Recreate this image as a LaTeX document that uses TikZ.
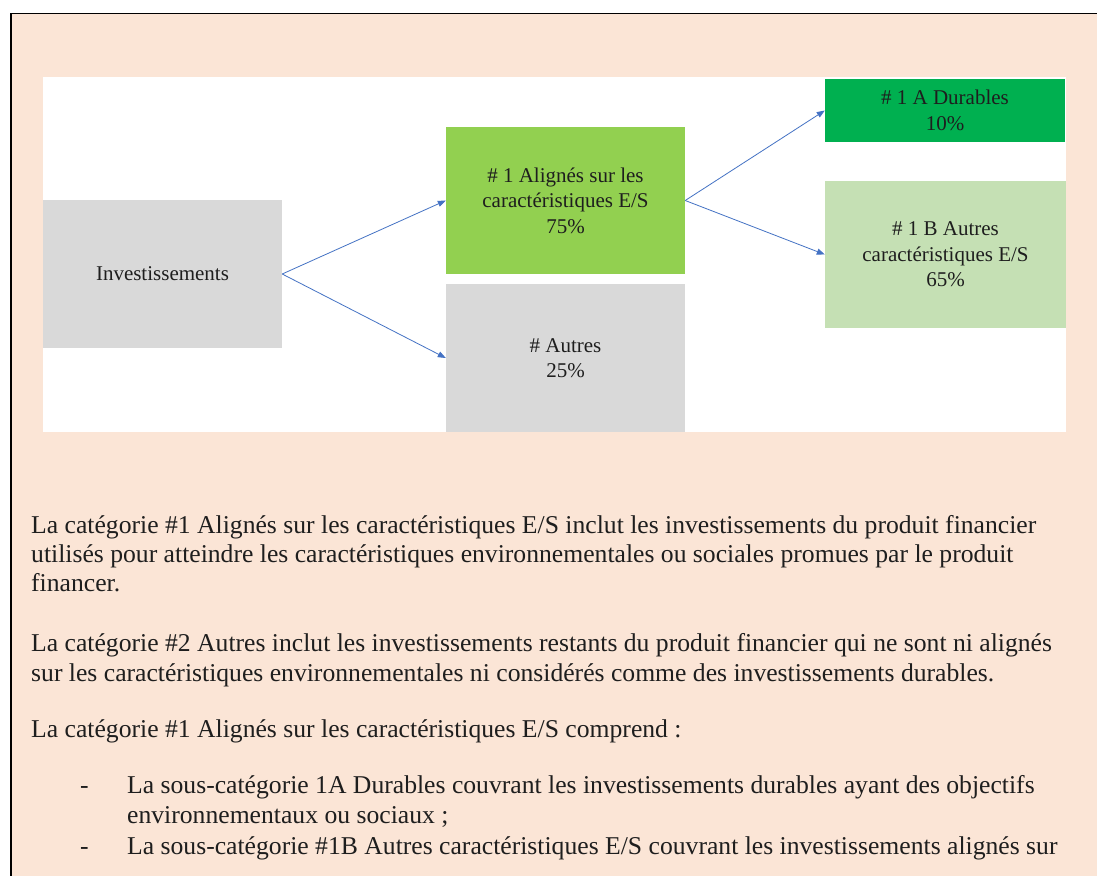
\documentclass[tikz,border=0pt]{standalone}
\usepackage{fontspec}
\setmainfont{Liberation Serif}
\usetikzlibrary{arrows.meta}
\definecolor{peach}{HTML}{FBE5D6}
\definecolor{boxgray}{HTML}{D9D9D9}
\definecolor{midgreen}{HTML}{92D050}
\definecolor{darkgreen}{HTML}{00B050}
\definecolor{lightgreen}{HTML}{C5E0B4}
\definecolor{arrowblue}{HTML}{4472C4}
\definecolor{textcol}{HTML}{1E1E1E}
\begin{document}
\begin{tikzpicture}[x=1pt,y=-1pt,
  box/.style={inner sep=0pt, align=center, text=textcol,
    font=\fontsize{21}{25.5}\selectfont},
  arr/.style={draw=arrowblue, line width=0.8pt, -{Triangle[length=8pt,width=6pt]}},
  body/.style={anchor=base west, inner sep=0pt, text=textcol,
    font=\fontsize{25.65}{29}\selectfont}]
\clip (0,0) rectangle (1097,875);
\fill[white] (0,0) rectangle (1097,875);
% outer frame
\fill[peach] (11,13.5) rectangle (1110,890);
\draw[black, line width=1.5pt] (11,890) -- (11,13.5) -- (1110,13.5);
% white panel
\fill[white] (43,77) rectangle (1066,432);
% boxes
\node[box, fill=boxgray, minimum width=239pt, minimum height=148pt] (inv) at (162.5,274) {Investissements};
\node[box, fill=midgreen, minimum width=239pt, minimum height=147pt] (ali) at (565.5,200.5) {\# 1 Alignés sur les\\caractéristiques E/S\\75\%};
\node[box, fill=boxgray, minimum width=239pt, minimum height=148pt] (aut) at (565.5,358) {\# Autres\\25\%};
\node[box, fill=darkgreen, minimum width=240pt, minimum height=63pt] (dur) at (945,110.5) {\# 1 A Durables\\10\%};
\node[box, fill=lightgreen, minimum width=241pt, minimum height=147pt] (autb) at (945.5,254.5) {\# 1 B Autres\\caractéristiques E/S\\65\%};
% connectors
\draw[arr] (inv.east) -- (ali.west);
\draw[arr] (inv.east) -- (aut.west);
\draw[arr] (ali.east) -- (dur.west);
\draw[arr] (ali.east) -- (autb.west);
% body text
\node[body] (t1) at (31,533) {La catégorie \#1 Alignés sur les caractéristiques E/S inclut les investissements du produit financier};
\node[body] (t2) at (31,562) {utilisés pour atteindre les caractéristiques environnementales ou sociales promues par le produit};
\node[body] (t3) at (31,591) {financer.};
\node[body] (t4) at (31,651) {La catégorie \#2 Autres inclut les investissements restants du produit financier qui ne sont ni alignés};
\node[body] (t5) at (31,681) {sur les caractéristiques environnementales ni considérés comme des investissements durables.};
\node[body] (t6) at (31,737) {La catégorie \#1 Alignés sur les caractéristiques E/S comprend :};
\node[body] (d1) at (80,793) {-};
\node[body] (t7) at (127,793) {La sous-catégorie 1A Durables couvrant les investissements durables ayant des objectifs};
\node[body] (t8) at (127,823) {environnementaux ou sociaux ;};
\node[body] (d2) at (80,854) {-};
\node[body] (t9) at (127,854) {La sous-catégorie \#1B Autres caractéristiques E/S couvrant les investissements alignés sur};
\end{tikzpicture}
\end{document}
